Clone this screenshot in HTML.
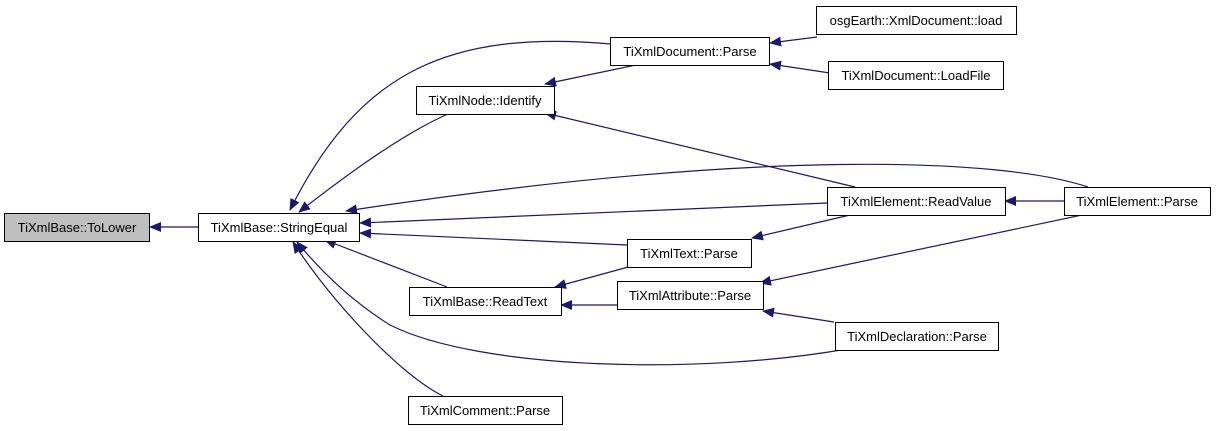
<!DOCTYPE html>
<html><head><meta charset="utf-8"><style>
body{margin:0;background:#fff;width:1216px;height:431px;overflow:hidden}
svg{display:block}
text{font-family:"Liberation Sans",sans-serif;font-size:13px;fill:#000}
</style></head><body>
<svg width="1216" height="431" viewBox="0 0 1216 431" xmlns="http://www.w3.org/2000/svg">
<defs>
<marker id="a" viewBox="0 0 12 10" refX="11" refY="5" markerWidth="12" markerHeight="10" markerUnits="userSpaceOnUse" orient="auto">
<path d="M0,0 L12,5 L0,10 z" fill="#191970"/>
</marker>
</defs>
<g fill="none" stroke="#191970" stroke-width="1.2" marker-end="url(#a)">
<path d="M198,227 L150,227"/>
<path d="M611,44 C450,30 360,70 290,210"/>
<path d="M448,114 C400,135 340,180 299,212"/>
<path d="M1088,187 C1000,158 760,148 346,211"/>
<path d="M827,203 L360,223"/>
<path d="M627,245 L360,233"/>
<path d="M447,287 L325,240"/>
<path d="M847,349 C700,375 480,370 390,325 C350,300 320,270 297,242"/>
<path d="M443,396 C400,375 330,300 293,242"/>
<path d="M636,65 L545,84"/>
<path d="M855,187 L545,113"/>
<path d="M817,37 L770,43"/>
<path d="M830,73 L770,64"/>
<path d="M1064,201 L1005,201"/>
<path d="M850,215 L752,238"/>
<path d="M1082,215 L760,283"/>
<path d="M834,322 L763,311"/>
<path d="M632,266 L555,287"/>
<path d="M617,305 L561,305"/>
</g>
<g stroke="#000" stroke-width="1">
<rect x="4.5" y="213.5" width="145" height="28" fill="#bfbfbf"/>
<rect x="198.5" y="213.5" width="161" height="28" fill="#fff"/>
<rect x="416.5" y="86.5" width="138" height="28" fill="#fff"/>
<rect x="409.5" y="287.5" width="152" height="28" fill="#fff"/>
<rect x="408.5" y="396.5" width="154" height="28" fill="#fff"/>
<rect x="610.5" y="37.5" width="159" height="28" fill="#fff"/>
<rect x="816.5" y="6.5" width="200" height="28" fill="#fff"/>
<rect x="828.5" y="61.5" width="175" height="28" fill="#fff"/>
<rect x="827.5" y="187.5" width="178" height="28" fill="#fff"/>
<rect x="1064.5" y="187.5" width="146" height="28" fill="#fff"/>
<rect x="627.5" y="239.5" width="124" height="28" fill="#fff"/>
<rect x="617.5" y="281.5" width="146" height="28" fill="#fff"/>
<rect x="835.5" y="322.5" width="163" height="28" fill="#fff"/>
</g>
<g text-anchor="middle">
<text x="77" y="232">TiXmlBase::ToLower</text>
<text x="279" y="232">TiXmlBase::StringEqual</text>
<text x="485" y="105">TiXmlNode::Identify</text>
<text x="485" y="306">TiXmlBase::ReadText</text>
<text x="485" y="415">TiXmlComment::Parse</text>
<text x="690" y="56">TiXmlDocument::Parse</text>
<text x="916" y="25">osgEarth::XmlDocument::load</text>
<text x="916" y="80">TiXmlDocument::LoadFile</text>
<text x="916" y="206">TiXmlElement::ReadValue</text>
<text x="1137" y="206">TiXmlElement::Parse</text>
<text x="689" y="258">TiXmlText::Parse</text>
<text x="690" y="300">TiXmlAttribute::Parse</text>
<text x="917" y="341">TiXmlDeclaration::Parse</text>
</g>
</svg>
</body></html>
